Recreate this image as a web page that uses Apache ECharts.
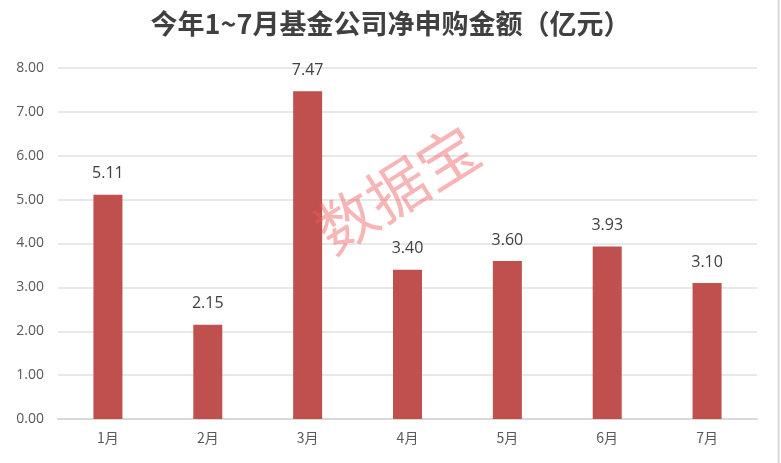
<!DOCTYPE html>
<html>
<head>
<meta charset="utf-8">
<script src="https://cdn.jsdelivr.net/npm/echarts@6/dist/echarts.min.js"></script>
<style>html,body{margin:0;padding:0;background:#fff;}#c{width:781px;height:463px;}</style>
</head>
<body>
<div id="c"></div>
<script>
const categories = ['1月','2月','3月','4月','5月','6月','7月'];
const values = [5.11, 2.15, 7.47, 3.40, 3.60, 3.93, 3.10];
const yTicks = ['0.00','1.00','2.00','3.00','4.00','5.00','6.00','7.00','8.00'];

const chart = echarts.init(document.getElementById('c'), null, {renderer:'canvas'});
chart.setOption({
  backgroundColor: '#fff',
  animation: false,
  title: {
    text: '今年1~7月基金公司净申购金额（亿元）',
    left: 'center',
    top: 5,
    textStyle: { fontFamily: 'Noto Sans CJK SC', fontWeight: 'bold', fontSize: 27, color: '#404040' }
  },
  grid: { left: 58, right: 24, top: 68, bottom: 44, containLabel: false },
  xAxis: {
    type: 'category',
    data: categories,
    axisLine: { lineStyle: { color: '#d9d9d9', width: 2 } },
    axisTick: { show: false },
    axisLabel: { color: '#595959', fontSize: 14, fontFamily: 'Noto Sans CJK SC', margin: 12 }
  },
  yAxis: {
    type: 'value',
    min: 0, max: 8, interval: 1,
    axisLine: { show: false },
    axisTick: { show: false },
    splitLine: { lineStyle: { color: '#e0e0e0', width: 1.5 } },
    axisLabel: { color: '#595959', fontSize: 14, fontFamily: 'Open Sans', margin: 14,
      formatter: (v) => yTicks[Math.round(v)] }
  },
  series: [{
    type: 'bar',
    data: values,
    barWidth: 29,
    itemStyle: { color: '#C0504D' },
    label: {
      show: true, position: 'top', distance: 13,
      color: '#404040', fontSize: 16, fontFamily: 'Open Sans',
      formatter: (p) => p.value.toFixed(2)
    }
  }],
  graphic: [
    {
      type: 'text',
      x: 397, y: 189,
      rotation: 32 * Math.PI / 180,
      style: {
        text: '数据宝',
        fontSize: 60,
        fontFamily: 'Noto Sans CJK SC',
        fontWeight: 'normal',
        fill: 'rgba(240,90,90,0.45)',
        align: 'center',
        verticalAlign: 'middle'
      },
      z: 100
    },
    {
      type: 'line',
      shape: { x1: 778.5, y1: 0, x2: 778.5, y2: 463 },
      style: { stroke: '#d9d9d9', lineWidth: 2 }
    }
  ]
});
</script>
</body>
</html>
